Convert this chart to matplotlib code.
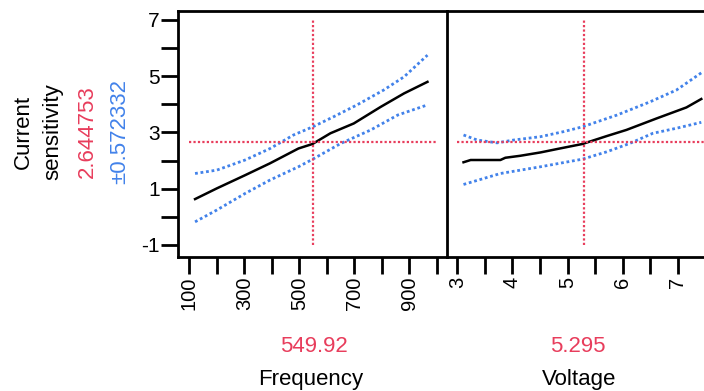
import matplotlib
matplotlib.use("Agg")
import matplotlib.pyplot as plt

plt.rcParams['font.family'] = ['Liberation Sans', 'DejaVu Sans']

# ---- data ----
freq_x = [121, 200, 303, 393, 497, 548, 613, 698, 796, 881, 966]
freq_pred = [0.63, 1.01, 1.48, 1.90, 2.43, 2.59, 2.97, 3.32, 3.91, 4.39, 4.80]
freq_up_x = [121, 200, 303, 394, 479, 549, 625, 710, 807, 881, 966]
freq_up = [1.54, 1.66, 2.02, 2.43, 2.91, 3.20, 3.56, 3.98, 4.51, 4.98, 5.75]
freq_lo_x = [121, 200, 303, 394, 497, 549, 651, 760, 858, 966]
freq_lo = [-0.18, 0.24, 0.83, 1.31, 1.78, 2.05, 2.61, 3.09, 3.62, 3.98]

volt_x = [3.11, 3.24, 3.78, 3.87, 4.14, 4.51, 4.81, 5.27, 5.71, 6.07, 6.62, 7.16, 7.43]
volt_pred = [1.94, 2.02, 2.02, 2.10, 2.17, 2.29, 2.41, 2.59, 2.87, 3.09, 3.50, 3.89, 4.19]
volt_up_x = [3.11, 3.36, 3.72, 4.02, 4.51, 4.93, 5.27, 5.90, 6.50, 6.98, 7.43]
volt_up = [2.91, 2.73, 2.63, 2.73, 2.85, 3.03, 3.20, 3.62, 4.09, 4.51, 5.12]
volt_lo_x = [3.11, 3.78, 4.51, 5.27, 5.71, 6.13, 6.55, 6.98, 7.43]
volt_lo = [1.15, 1.54, 1.78, 2.05, 2.31, 2.61, 2.97, 3.15, 3.36]

freq_ticks = [100, 300, 500, 700, 900]
freq_minor = [200, 400, 600, 800, 1000]
volt_ticks = [3, 4, 5, 6, 7]
volt_minor = [3.5, 4.5, 5.5, 6.5, 7.5]
y_ticks = [-1, 1, 3, 5, 7]
y_minor = [0, 2, 4, 6]

freq_cur = 549.92
volt_cur = 5.295
y_cur = 2.644753
y_ci = 0.572332

RED = '#E83D5C'
BLUE = '#4282EA'

W, H = 704, 391
fig = plt.figure(figsize=(W / 100, H / 100), dpi=100)

def px_axes(x0, x1, y0, y1):
    return fig.add_axes([x0 / W, 1 - y1 / H, (x1 - x0) / W, (y1 - y0) / H])

ax1 = px_axes(178, 447, 11, 257)
ax2 = px_axes(447, 720, 11, 257)

ylim = (-1.43, 7.32)

def style(ax, xlim, major, minor, show_y):
    ax.set_xlim(*xlim)
    ax.set_ylim(*ylim)
    for s in ax.spines.values():
        s.set_linewidth(2)
    ax.spines['right'].set_visible(False)
    ax.set_xticks(major)
    ax.set_xticks(minor, minor=True)
    ax.set_xticklabels([str(t) for t in major], rotation=90, fontsize=14.5)
    ax.tick_params(axis='x', which='both', length=12, width=2, pad=2)
    if show_y:
        ax.set_yticks(y_ticks)
        ax.set_yticks(y_minor, minor=True)
        ax.set_yticklabels([str(t) for t in y_ticks], fontsize=15)
        ax.tick_params(axis='y', which='both', length=12, width=2, pad=1)
    else:
        ax.set_yticks([])

style(ax1, (59, 1037), freq_ticks, freq_minor, True)
style(ax2, (2.81, 7.77), volt_ticks, volt_minor, False)

dot = (0, (1, 1))
for ax, x, p, ux, u, lx, l, cur, hx in [
    (ax1, freq_x, freq_pred, freq_up_x, freq_up, freq_lo_x, freq_lo, freq_cur, (100, 1000)),
    (ax2, volt_x, volt_pred, volt_up_x, volt_up, volt_lo_x, volt_lo, volt_cur, (3, 8)),
]:
    ax.plot(ux, u, color=BLUE, lw=2, ls=dot)
    ax.plot(lx, l, color=BLUE, lw=2, ls=dot)
    ax.plot(x, p, color='black', lw=1.8)
    ax.plot([cur, cur], [-1, 7], color=RED, lw=1.6, ls=dot)
    ax.plot(hx, [y_cur, y_cur], color=RED, lw=1.6, ls=dot)

# left labels
yc = 1 - 132 / H
fig.text(23 / W, yc, 'Current', rotation=90, ha='center', va='center', fontsize=16)
fig.text(53 / W, yc, 'sensitivity', rotation=90, ha='center', va='center', fontsize=16)
fig.text(87 / W, yc, f'{y_cur:.6f}', rotation=90, ha='center', va='center', fontsize=16, color=RED)
fig.text(120 / W, yc, f'\u00b1{y_ci:.6f}', rotation=90, ha='center', va='center', fontsize=16, color=BLUE)

# bottom labels
fig.text(314 / W, 1 - 346 / H, f'{freq_cur:.2f}', ha='center', va='center', fontsize=16, color=RED)
fig.text(311 / W, 1 - 379 / H, 'Frequency', ha='center', va='center', fontsize=16)
fig.text(578 / W, 1 - 346 / H, f'{volt_cur:.3f}', ha='center', va='center', fontsize=16, color=RED)
fig.text(579 / W, 1 - 379 / H, 'Voltage', ha='center', va='center', fontsize=16)

fig.savefig('out.png', dpi=100)
